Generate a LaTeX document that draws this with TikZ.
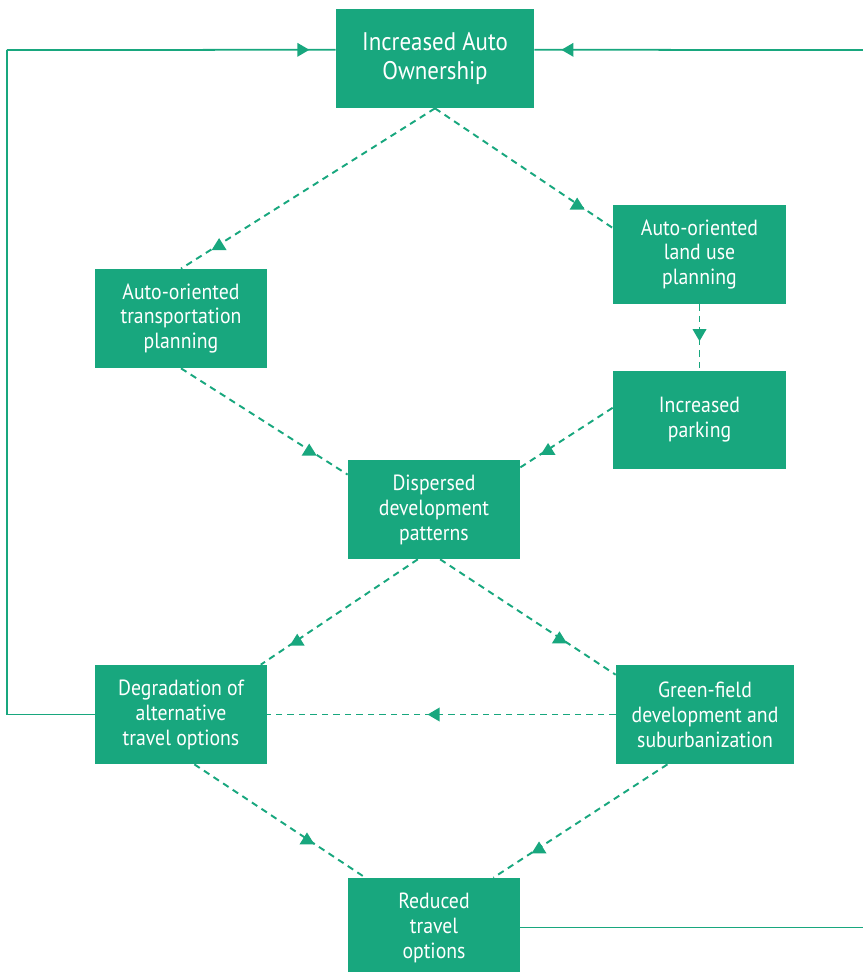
\documentclass[tikz,border=0pt]{standalone}
\usepackage{fontspec}
\setmainfont{PT Sans}[FakeStretch=0.9]
\usetikzlibrary{arrows.meta,decorations.markings}
\definecolor{boxgreen}{RGB}{24,167,126}
\tikzset{%
  gbox/.style={fill=boxgreen,text=white,align=center,inner sep=2,minimum width=3.44cm,minimum height=1.98cm,font=\fontsize{12.5}{14.2}\selectfont},
  dedge/.style={draw=boxgreen,line width=1.1pt,dash pattern=on 0.13cm off 0.1cm},
  sedge/.style={draw=boxgreen,line width=1pt},
  uptip/.style={postaction={decorate},decoration={markings,mark=at position #1 with {\pgftransformresetnontranslations\fill[boxgreen] (-0.15cm,-0.11cm) -- (0.15cm,-0.11cm) -- (0,0.13cm) -- cycle;}}},
  midarrow/.style={postaction={decorate},decoration={markings,mark=at position #1 with {\arrow[boxgreen]{Triangle[length=0.24cm,width=0.27cm]}}}}
}
\begin{document}
\begin{tikzpicture}[x=0.02cm,y=-0.02cm]
  \useasboundingbox (0,0) rectangle (862,972);
  \path
    (435,58.5) node[gbox,minimum width=3.96cm,font=\fontsize{14.5}{16}\selectfont] (auto_own) {Increased Auto\\Ownership}
    (181,318.5) node[gbox] (trans_plan) {Auto-oriented\\transportation\\planning}
    (699.5,254.5) node[gbox,minimum width=3.46cm] (land_plan) {Auto-oriented\\land use\\planning}
    (699.5,420) node[gbox,minimum width=3.46cm] (parking) {Increased\\parking}
    (434,509.5) node[gbox] (disp_dev) {Dispersed\\development\\patterns}
    (181,714.5) node[gbox] (degr_alt) {Degradation of\\alternative\\travel options}
    (705,714.5) node[gbox,minimum width=3.56cm] (green_sub) {Green-field\\development and\\suburbanization}
    (434,927.5) node[gbox] (red_opt) {Reduced\\travel\\options};
  \coordinate (left_turn) at (7,50);
  \coordinate (right_turn) at (872,50);
  % feedback loops
  \draw[sedge] (degr_alt.west) -| (left_turn);
  \draw[sedge,midarrow=0.92] (left_turn) -- (auto_own.175);
  \draw[sedge] (red_opt.east) -| (right_turn);
  \draw[sedge,midarrow=0.92] (right_turn) -- (auto_own.5);
  % dashed links
  \draw[dedge,uptip=0.85] (auto_own.south) -- (trans_plan.north);
  \draw[dedge,uptip=0.8] (auto_own.south) -- (land_plan.163);
  \draw[dedge,midarrow=0.56] (land_plan.south) -- (parking.north);
  \draw[dedge,uptip=0.77] (trans_plan.south) -- (disp_dev.158);
  \draw[dedge,uptip=0.7] (parking.172) -- (disp_dev.26);
  \draw[dedge,uptip=0.77] (disp_dev.252) -- (degr_alt.32);
  \draw[dedge,uptip=0.68] (disp_dev.277) -- (green_sub.156);
  \draw[dedge,midarrow=0.54] (green_sub.west) -- (degr_alt.east);
  \draw[dedge,uptip=0.66] (degr_alt.285) -- (red_opt.144);
  \draw[dedge,uptip=0.74] (green_sub.233) -- (red_opt.40);
\end{tikzpicture}
\end{document}
